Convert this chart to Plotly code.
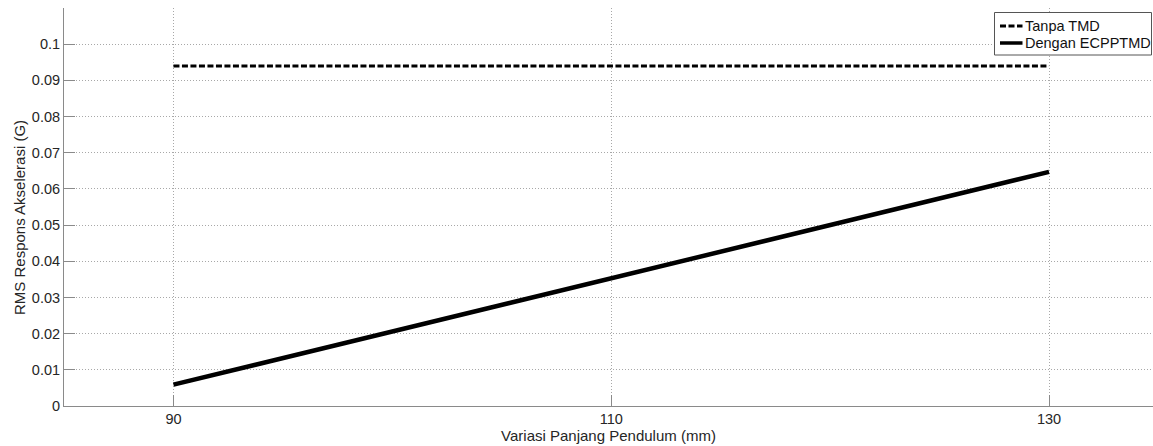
import plotly.graph_objects as go

x_vals = [90, 110, 130]
tanpa_tmd = [0.094, 0.094, 0.094]
dengan_ecpptmd = [0.0059, 0.0353, 0.0647]
series_names = ["Tanpa TMD", "Dengan ECPPTMD"]
x_ticks = [90, 110, 130]
y_ticks = [0, 0.01, 0.02, 0.03, 0.04, 0.05, 0.06, 0.07, 0.08, 0.09, 0.1]
y_tick_text = ["0", "0.01", "0.02", "0.03", "0.04", "0.05", "0.06", "0.07", "0.08", "0.09", "0.1"]
x_title = "Variasi Panjang Pendulum (mm)"
y_title = "RMS Respons Akselerasi (G)"

W, H = 1153, 446
ML, MR, MT, MB = 64, 0, 8, 40
PW, PH = W - ML - MR, H - MT - MB

def px(xp):
    return (xp - ML) / PW

def py(yp):
    return (H - MB - yp) / PH

dash_style = "6px,2.5px"
FONT = "Liberation Sans, Arial, sans-serif"
FS = 14.5

fig = go.Figure()
fig.add_trace(go.Scatter(x=x_vals, y=tanpa_tmd, mode="lines", name=series_names[0],
                         line=dict(color="black", width=3, dash=dash_style), showlegend=False))
fig.add_trace(go.Scatter(x=x_vals, y=dengan_ecpptmd, mode="lines", name=series_names[1],
                         line=dict(color="black", width=4.5), showlegend=False))

axis_common = dict(showline=True, linecolor="#8a8a8a", linewidth=1,
                   ticks="inside", ticklen=11, tickcolor="#8a8a8a",
                   showgrid=True, gridcolor="#a8a8a8", griddash="1px,2px", gridwidth=1,
                   zeroline=False, tickfont=dict(size=FS, color="#262626", family=FONT))

fig.update_xaxes(range=[85, 134.75], tickvals=x_ticks, ticktext=[str(v) for v in x_ticks],
                 title=dict(text=x_title, standoff=0,
                            font=dict(size=15, color="#262626", family=FONT)), **axis_common)
fig.update_yaxes(range=[0, 0.11], tickvals=y_ticks, ticktext=y_tick_text, **axis_common)

# Manual legend (MATLAB style)
shapes = [
    dict(type="rect", xref="paper", yref="paper",
         x0=px(994.5), x1=px(1151.5), y0=py(55), y1=py(12.5),
         line=dict(color="#555555", width=1), fillcolor="white", layer="above"),
    dict(type="line", xref="paper", yref="paper",
         x0=px(1000), x1=px(1022.5), y0=py(26), y1=py(26),
         line=dict(color="black", width=3, dash=dash_style), layer="above"),
    dict(type="line", xref="paper", yref="paper",
         x0=px(1000), x1=px(1022.5), y0=py(43), y1=py(43),
         line=dict(color="black", width=3.5), layer="above"),
]
annotations = [
    dict(text=series_names[0], xref="paper", yref="paper", x=px(1023), y=py(26),
         xanchor="left", yanchor="middle", showarrow=False,
         font=dict(size=FS, color="#111111", family=FONT)),
    dict(text=series_names[1], xref="paper", yref="paper", x=px(1023), y=py(43),
         xanchor="left", yanchor="middle", showarrow=False,
         font=dict(size=FS, color="#111111", family=FONT)),
    dict(text=y_title, xref="paper", yref="paper", x=px(20), y=py(218),
         xanchor="center", yanchor="middle", showarrow=False, textangle=-90,
         font=dict(size=15, color="#262626", family=FONT)),
]

fig.update_layout(
    width=W, height=H,
    margin=dict(l=ML, r=MR, t=MT, b=MB),
    paper_bgcolor="white", plot_bgcolor="white",
    font=dict(family=FONT, size=FS, color="#262626"),
    showlegend=False,
    shapes=shapes, annotations=annotations,
)

fig.write_html("out.html")
